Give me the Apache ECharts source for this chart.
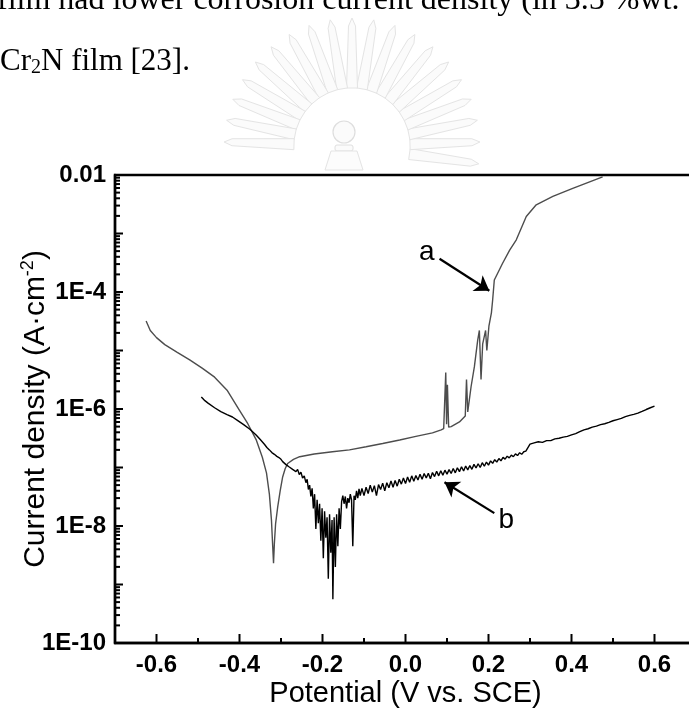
<!DOCTYPE html>
<html>
<head>
<meta charset="utf-8">
<script src="https://cdn.jsdelivr.net/npm/echarts@6/dist/echarts.min.js"></script>
<style>
  html, body { margin: 0; padding: 0; background: #fff; }
  #chart { width: 689px; height: 712px; }
</style>
</head>
<body>
<div id="chart"></div>
<script>
// Potentiodynamic polarization curves: [potential (V vs. SCE), current density (A/cm^2)]
const curveA = [
  [-0.625, 3.2e-5], [-0.615, 2.2e-5], [-0.600, 1.66e-5], [-0.580, 1.26e-5], [-0.550, 9.3e-6],
  [-0.520, 6.9e-6], [-0.490, 5.0e-6], [-0.460, 3.5e-6], [-0.430, 2.1e-6], [-0.400, 9.5e-7],
  [-0.380, 5.6e-7], [-0.360, 3.0e-7], [-0.345, 1.5e-7], [-0.335, 8.1e-8], [-0.328, 3.5e-8],
  [-0.323, 1.26e-8], [-0.320, 4.5e-9], [-0.318, 2.3e-9], [-0.316, 5.0e-9], [-0.313, 1.1e-8],
  [-0.308, 2.1e-8], [-0.302, 4.0e-8], [-0.296, 6.9e-8], [-0.290, 9.5e-8], [-0.284, 1.17e-7],
  [-0.270, 1.38e-7], [-0.255, 1.53e-7], [-0.220, 1.7e-7], [-0.176, 1.86e-7], [-0.135, 2.0e-7],
  [-0.095, 2.26e-7], [-0.055, 2.57e-7], [-0.014, 2.95e-7], [0.025, 3.4e-7], [0.065, 3.9e-7],
  [0.086, 4.4e-7], [0.092, 4.6e-7], [0.095, 4.8e-7], [0.097, 4.2e-6], [0.099, 5.5e-7],
  [0.101, 2.6e-6], [0.104, 4.9e-7], [0.110, 5.0e-7], [0.130, 6.0e-7], [0.144, 7.6e-7],
  [0.147, 3.2e-6], [0.150, 8.9e-7], [0.158, 2.4e-6], [0.166, 5.3e-6], [0.174, 1.5e-5],
  [0.178, 2.2e-5], [0.182, 3.2e-6], [0.186, 1.3e-5], [0.193, 2.2e-5], [0.196, 1.0e-5],
  [0.201, 2.6e-5], [0.207, 4.4e-5], [0.210, 7.3e-5], [0.214, 1.6e-4], [0.234, 3.1e-4],
  [0.251, 5.2e-4], [0.267, 7.8e-4], [0.291, 1.95e-3], [0.315, 3.1e-3], [0.355, 4.3e-3],
  [0.403, 5.9e-3], [0.475, 9.3e-3]
];

const curveB = [
  [-0.492, 1.6e-6], [-0.485, 1.42e-6], [-0.475, 1.25e-6], [-0.460, 1.05e-6], [-0.445, 9.0e-7],
  [-0.430, 8.0e-7], [-0.417, 7.3e-7], [-0.405, 6.4e-7], [-0.390, 5.4e-7], [-0.375, 4.5e-7],
  [-0.360, 3.6e-7], [-0.350, 3.0e-7], [-0.340, 2.5e-7], [-0.334, 2.2e-7], [-0.328, 2.0e-7],
  [-0.322, 1.8e-7], [-0.316, 1.68e-7], [-0.310, 1.55e-7], [-0.305, 1.48e-7],
  [-0.300, 1.38e-7], [-0.296, 1.26e-7], [-0.292, 1.32e-7], [-0.288, 1.12e-7], [-0.284, 1.17e-7],
  [-0.280, 1.02e-7], [-0.276, 1.10e-7], [-0.272, 9.3e-8], [-0.268, 1.0e-7], [-0.264, 8.5e-8],
  [-0.260, 9.3e-8], [-0.256, 7.6e-8], [-0.252, 8.3e-8], [-0.248, 6.6e-8], [-0.244, 7.2e-8],
  [-0.240, 5.5e-8], [-0.237, 6.3e-8], [-0.234, 4.2e-8], [-0.231, 5.0e-8], [-0.228, 3.2e-8],
  [-0.225, 4.4e-8], [-0.222, 2.0e-8], [-0.219, 3.5e-8], [-0.216, 8.9e-9], [-0.213, 2.8e-8],
  [-0.210, 1.12e-8], [-0.207, 2.4e-8], [-0.204, 5.6e-9], [-0.201, 2.0e-8], [-0.198, 2.8e-9],
  [-0.195, 1.78e-8], [-0.192, 6.3e-9], [-0.189, 1.41e-8], [-0.186, 1.26e-9], [-0.183, 1.58e-8],
  [-0.180, 3.5e-9], [-0.177, 1.26e-8], [-0.175, 5.6e-10], [-0.172, 1.41e-8], [-0.169, 2.0e-9],
  [-0.166, 1.58e-8], [-0.163, 4.5e-9], [-0.160, 2.0e-8], [-0.157, 8.9e-9], [-0.154, 2.6e-8],
  [-0.151, 3.3e-8], [-0.148, 2.4e-8], [-0.145, 3.2e-8], [-0.142, 2.0e-8], [-0.139, 3.0e-8],
  [-0.136, 2.5e-8], [-0.133, 3.5e-8], [-0.130, 2.8e-8], [-0.127, 4.5e-9], [-0.124, 3.3e-8],
  [-0.121, 2.8e-8], [-0.118, 4.0e-8], [-0.115, 3.0e-8], [-0.112, 4.3e-8], [-0.109, 3.3e-8],
  [-0.105, 4.4e-8], [-0.100, 3.3e-8], [-0.095, 4.6e-8], [-0.090, 3.6e-8], [-0.085, 5.0e-8],
  [-0.080, 3.8e-8], [-0.075, 4.9e-8], [-0.070, 3.3e-8], [-0.065, 5.1e-8], [-0.060, 4.2e-8],
  [-0.055, 5.4e-8], [-0.050, 4.0e-8], [-0.045, 5.5e-8], [-0.040, 4.5e-8], [-0.035, 5.9e-8],
  [-0.030, 4.6e-8], [-0.025, 6.0e-8], [-0.020, 4.8e-8], [-0.015, 6.3e-8], [-0.010, 5.2e-8],
  [-0.005, 6.6e-8], [0.000, 5.3e-8], [0.005, 6.9e-8], [0.010, 5.6e-8], [0.015, 7.2e-8],
  [0.020, 5.8e-8], [0.025, 7.3e-8], [0.030, 6.1e-8], [0.035, 7.7e-8], [0.040, 6.3e-8],
  [0.045, 7.9e-8], [0.050, 6.6e-8], [0.055, 8.0e-8], [0.060, 6.4e-8], [0.065, 8.2e-8],
  [0.070, 7.0e-8], [0.075, 8.6e-8], [0.080, 7.2e-8], [0.085, 8.8e-8], [0.090, 7.4e-8],
  [0.095, 9.0e-8], [0.100, 7.7e-8], [0.105, 9.2e-8], [0.110, 7.9e-8], [0.115, 9.6e-8],
  [0.120, 8.1e-8], [0.125, 9.9e-8], [0.130, 8.5e-8], [0.135, 1.03e-7], [0.140, 8.7e-8],
  [0.145, 1.06e-7], [0.150, 9.1e-8], [0.155, 1.08e-7], [0.160, 9.3e-8], [0.165, 1.13e-7],
  [0.170, 9.8e-8], [0.175, 1.16e-7], [0.180, 1.0e-7], [0.185, 1.21e-7], [0.190, 1.05e-7],
  [0.195, 1.24e-7], [0.200, 1.10e-7], [0.205, 1.30e-7], [0.210, 1.18e-7], [0.215, 1.36e-7],
  [0.220, 1.24e-7], [0.225, 1.42e-7], [0.230, 1.30e-7], [0.235, 1.49e-7], [0.240, 1.39e-7],
  [0.245, 1.56e-7], [0.250, 1.46e-7], [0.255, 1.63e-7], [0.260, 1.53e-7], [0.265, 1.71e-7],
  [0.270, 1.60e-7], [0.275, 1.79e-7], [0.280, 1.68e-7], [0.285, 1.86e-7], [0.290, 1.91e-7],
  [0.295, 2.19e-7], [0.300, 2.51e-7],
  [0.310, 2.63e-7], [0.320, 2.75e-7], [0.330, 2.69e-7], [0.340, 2.88e-7], [0.350, 2.88e-7],
  [0.360, 3.09e-7], [0.370, 3.16e-7], [0.380, 3.3e-7], [0.390, 3.4e-7], [0.400, 3.6e-7],
  [0.410, 3.8e-7], [0.420, 4.1e-7], [0.430, 4.4e-7], [0.440, 4.6e-7], [0.450, 4.9e-7],
  [0.460, 5.1e-7], [0.470, 5.4e-7], [0.480, 5.6e-7], [0.490, 5.9e-7], [0.500, 6.3e-7],
  [0.510, 6.6e-7], [0.520, 6.9e-7], [0.530, 7.4e-7], [0.540, 7.8e-7], [0.550, 8.1e-7],
  [0.560, 8.5e-7], [0.570, 9.1e-7], [0.580, 9.8e-7], [0.590, 1.05e-6], [0.600, 1.12e-6]
];

// Axis tick values
const xMajorTicks = [-0.6, -0.4, -0.2, 0.0, 0.2, 0.4, 0.6];
const xMinorTicks = [-0.5, -0.3, -0.1, 0.1, 0.3, 0.5];
const yDecadeExponents = [-10, -9, -8, -7, -6, -5, -4, -3, -2];
const yMinorMantissas = [2, 3, 4, 5, 6, 7, 8, 9];

const X_MIN = -0.7, X_MAX = 0.7;
const Y_MIN = 1e-10, Y_MAX = 1e-2;
const SANS = '"Liberation Sans", Arial, Helvetica, sans-serif';
const SERIF = '"Liberation Serif", "Times New Roman", serif';

// Tick marks drawn inward from the axes
const xTickData = xMajorTicks.map(v => [v, Y_MIN, 9]).concat(xMinorTicks.map(v => [v, Y_MIN, 5]));
const yTickData = [];
yDecadeExponents.forEach(e => {
  yTickData.push([X_MIN, Math.pow(10, e), 8]);
  if (e < -2) yMinorMantissas.forEach(m => yTickData.push([X_MIN, m * Math.pow(10, e), 5]));
});

function tickSeries(data, horizontal) {
  return {
    type: 'custom', silent: true, clip: false, z: 6,
    encode: { x: 0, y: 1 },
    data: data,
    renderItem: function (params, api) {
      const p = api.coord([api.value(0), api.value(1)]);
      const len = api.value(2);
      return {
        type: 'line',
        shape: horizontal
          ? { x1: p[0], y1: p[1], x2: p[0] + len, y2: p[1] }
          : { x1: p[0], y1: p[1], x2: p[0], y2: p[1] - len },
        style: { stroke: '#000', lineWidth: 2 }
      };
    }
  };
}

// Faint emblem behind the heading text
function emblem() {
  const cx = 352, cy = 146, rIn = 58, rOut = 128;
  const children = [];
  for (let a = -8; a <= 188; a += 9.8) {
    const t = a * Math.PI / 180;
    const ux = Math.cos(t), uy = -Math.sin(t), vx = -uy, vy = ux;
    const w0 = 5.5, w1 = 3.5;
    children.push({
      type: 'polygon',
      shape: { points: [
        [cx + ux * rIn + vx * w0, cy + uy * rIn + vy * w0],
        [cx + ux * (rOut - 8) + vx * w1, cy + uy * (rOut - 8) + vy * w1],
        [cx + ux * rOut, cy + uy * rOut],
        [cx + ux * (rOut - 8) - vx * w1, cy + uy * (rOut - 8) - vy * w1],
        [cx + ux * rIn - vx * w0, cy + uy * rIn - vy * w0]
      ] },
      style: { fill: '#fbfbfb', stroke: '#e4e4e4', lineWidth: 1 }
    });
  }
  children.push({ type: 'circle', shape: { cx: 344, cy: 132, r: 11 }, style: { fill: '#fbfbfb', stroke: '#dedede', lineWidth: 1.2 } });
  children.push({ type: 'rect', shape: { x: 335, y: 145, width: 18, height: 6, r: 2 }, style: { fill: '#fbfbfb', stroke: '#e0e0e0', lineWidth: 1 } });
  children.push({ type: 'polygon', shape: { points: [[331, 151], [357, 151], [363, 170], [325, 170]] }, style: { fill: '#fcfcfc', stroke: '#e4e4e4', lineWidth: 1 } });
  return { type: 'group', silent: true, z: -10, children: children };
}

const chart = echarts.init(document.getElementById('chart'), null, { renderer: 'canvas' });

chart.setOption({
  animation: false,
  backgroundColor: '#fff',
  grid: {
    left: 115, top: 175, right: -7, bottom: 69,
    containLabel: false, outerBoundsMode: 'none',
    show: true, borderColor: '#000', borderWidth: 2.4, backgroundColor: 'transparent'
  },
  graphic: [
    emblem(),
    {
      type: 'text', x: -3, y: 1, silent: true,
      style: {
        text: 'film had lower corrosion current density (in 3.5 %wt.',
        font: '32px ' + SERIF, fill: '#000', verticalAlign: 'middle'
      }
    },
    {
      type: 'text', x: 0, y: 62, silent: true,
      style: {
        text: 'Cr{sub|2}N film [23].',
        font: '31px ' + SERIF, fill: '#000', verticalAlign: 'middle',
        rich: { sub: { fontSize: 20, fontFamily: SERIF, verticalAlign: 'bottom', padding: [12, 0, 0, 0] } }
      }
    }
  ],
  xAxis: {
    type: 'value', min: X_MIN, max: X_MAX, interval: 0.1,
    axisLine: { show: true, onZero: false, lineStyle: { color: '#000', width: 2.4 } },
    axisTick: { show: false },
    splitLine: { show: false },
    axisLabel: {
      margin: 10, color: '#000', fontSize: 24, fontWeight: 'bold', fontFamily: SANS,
      formatter: function (v) {
        const t = Math.round(v * 10);
        return t % 2 === 0 ? (t / 10).toFixed(1) : '';
      }
    },
    name: 'Potential (V vs. SCE)',
    nameLocation: 'middle', nameGap: 36, nameMoveOverlap: false,
    nameTextStyle: { color: '#000', fontSize: 29, fontFamily: SANS }
  },
  yAxis: {
    type: 'log', logBase: 10, min: Y_MIN, max: Y_MAX,
    axisLine: { show: true, onZero: false, lineStyle: { color: '#000', width: 2.4 } },
    axisTick: { show: false },
    minorTick: { show: false },
    splitLine: { show: false },
    axisLabel: {
      margin: 9, color: '#000', fontSize: 24, fontWeight: 'bold', fontFamily: SANS,
      formatter: function (v) {
        const e = Math.round(Math.log10(v));
        if (e % 2 !== 0) return '';
        return e === -2 ? '0.01' : '1E' + e;
      }
    },
    name: 'Current density (A·cm{sup|-2})',
    nameLocation: 'middle', nameGap: 62, nameMoveOverlap: false,
    nameTextStyle: {
      color: '#000', fontSize: 30, fontFamily: SANS, lineHeight: 34,
      rich: { sup: { fontSize: 18, fontFamily: SANS, lineHeight: 20, verticalAlign: 'top' } }
    }
  },
  series: [
    {
      name: 'a', type: 'line', data: curveA, showSymbol: false, z: 3,
      lineStyle: { color: '#4d4d4d', width: 1.4 },
      markLine: {
        silent: true, symbol: ['none', 'arrow'], symbolSize: 14,
        lineStyle: { color: '#000', width: 2.2, type: 'solid' },
        label: { show: false },
        data: [[{ coord: [0.082, 3.7e-4] }, { coord: [0.202, 1.05e-4] }]]
      },
      markPoint: {
        silent: true, symbol: 'circle', symbolSize: 0,
        label: { show: true, formatter: 'a', color: '#000', fontSize: 28, fontFamily: SANS },
        data: [{ coord: [0.051, 4.7e-4] }]
      }
    },
    {
      name: 'b', type: 'line', data: curveB, showSymbol: false, z: 4,
      lineStyle: { color: '#000', width: 1.4 },
      markLine: {
        silent: true, symbol: ['none', 'arrow'], symbolSize: 14,
        lineStyle: { color: '#000', width: 2.2, type: 'solid' },
        label: { show: false },
        data: [[{ coord: [0.214, 1.66e-8] }, { coord: [0.094, 5.6e-8] }]]
      },
      markPoint: {
        silent: true, symbol: 'circle', symbolSize: 0,
        label: { show: true, formatter: 'b', color: '#000', fontSize: 28, fontFamily: SANS },
        data: [{ coord: [0.243, 1.26e-8] }]
      }
    },
    tickSeries(xTickData, false),
    tickSeries(yTickData, true)
  ]
});
</script>
</body>
</html>
